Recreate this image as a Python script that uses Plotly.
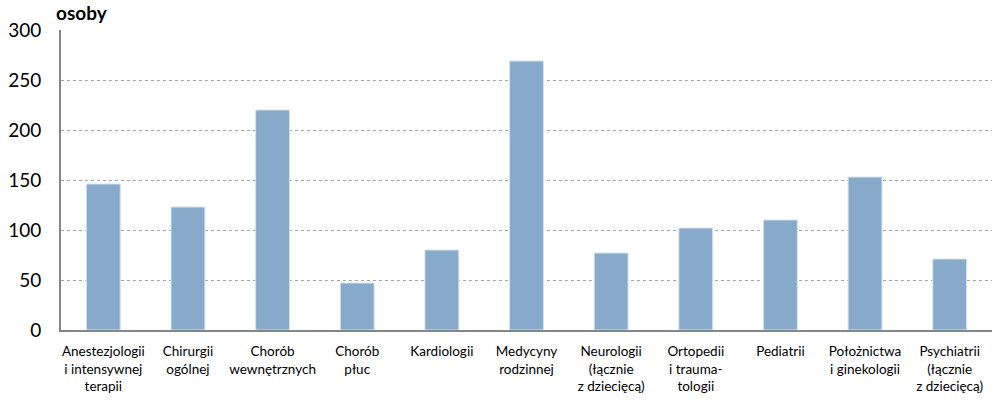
import plotly.graph_objects as go

categories = [
    "Anestezjologii<br>i intensywnej<br>terapii",
    "Chirurgii<br>ogólnej",
    "Chorób<br>wewnętrznych",
    "Chorób<br>płuc",
    "Kardiologii",
    "Medycyny<br>rodzinnej",
    "Neurologii<br>(łącznie<br>z dziecięcą)",
    "Ortopedii<br>i trauma-<br>tologii",
    "Pediatrii",
    "Położnictwa<br>i ginekologii",
    "Psychiatrii<br>(łącznie<br>z dziecięcą)",
]
values = [146, 123, 220, 47, 80, 269, 77, 102, 110, 153, 71]
y_ticks = [0, 50, 100, 150, 200, 250, 300]

fig = go.Figure(
    go.Bar(
        x=categories,
        y=values,
        width=0.4,
        marker=dict(color="#87AACB", line=dict(color="#D6E2EE", width=1)),
    )
)

fig.update_layout(
    width=997,
    height=401,
    margin=dict(l=61, r=5, t=30, b=71, autoexpand=False),
    paper_bgcolor="white",
    plot_bgcolor="white",
    font=dict(family="Lato, Open Sans, sans-serif", color="#000000"),
    showlegend=False,
    annotations=[
        dict(
            text="<b>osoby</b>",
            xref="paper",
            yref="paper",
            x=-0.007,
            y=1.0,
            xanchor="left",
            yanchor="bottom",
            yshift=4,
            showarrow=False,
            font=dict(size=19, family="Lato, Open Sans, sans-serif"),
        )
    ],
)

fig.update_yaxes(
    range=[0, 300],
    tickvals=y_ticks,
    tickfont=dict(size=19),
    showgrid=True,
    gridcolor="#A6A6A6",
    griddash="dot",
    gridwidth=1,
    showline=True,
    linecolor="#868686",
    linewidth=2,
    zeroline=False,
    ticks="",
    ticklabelstandoff=14,
)
fig.update_xaxes(
    tickfont=dict(size=13.5),
    showline=True,
    linecolor="#868686",
    linewidth=2,
    ticks="",
    tickangle=0,
    ticklabelstandoff=8,
)

fig.write_html(
    "out.html",
    config={"displayModeBar": False},
    post_script="document.body.style.margin='0px';document.body.style.overflow='hidden';",
)
